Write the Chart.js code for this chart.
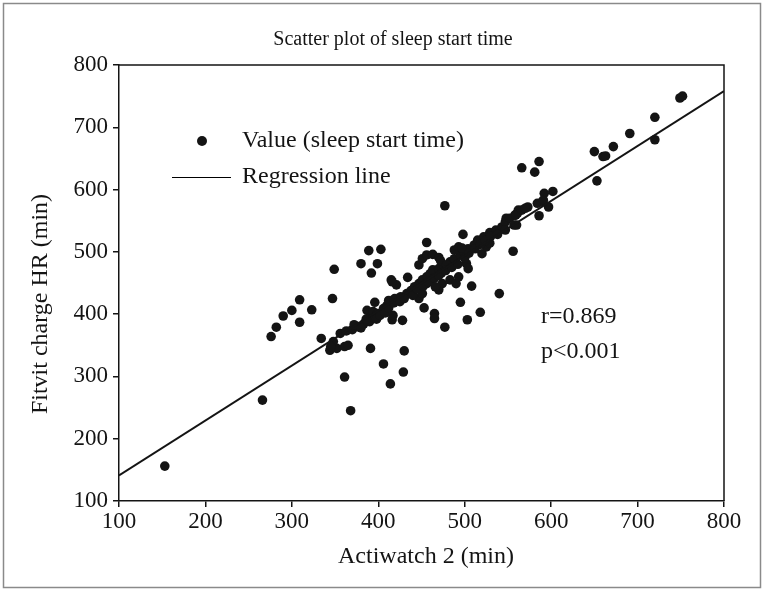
<!DOCTYPE html>
<html><head><meta charset="utf-8">
<script src="https://cdn.jsdelivr.net/npm/chart.js@4.4.1/dist/chart.umd.min.js"></script>
<style>html,body{margin:0;padding:0;background:#fff}#wrap{width:765px;height:592px;position:relative}</style>
</head><body><div id="wrap"><canvas id="c" width="765" height="592"></canvas></div>
<script>
// Actiwatch 2 (x) and Fitbit charge HR (y), minutes
const actiwatch = [153,266,368,361,406,414,429,430,391,
 276,282,290,300,309,309,323,334,347,349,
 380,389,403,399,392,
 344,352,361,365,348,356,
 456,477,498,556,540,518,503,495,508,477,
 465,465,453,428,416,417,396,387,
 566,581,586,586,597,602,592,573,561,
 653,650,660,663,672,691,720,720,749,752,
 590,562,558,548,545,560,
 345,363,370,376,383,390,392,394,399,406,410,412,419,426,433,438,442,447,451,456,460,463,470,476,483,488,495,499,504,511,515,522,529,536,543,547,552,559,566,570,
 415,421,416,434,447,451,456,463,470,472,479,488,493,497,
 447,451,456,461,470,474,483,490,493,502,504,520,525,529,547,557,584,591,473,466,
 372,380,386,398,402,408,412,418,425,430,440,445,452,458,465,470,478,485,492,500,505,512,518,524,530,538];
const fitbit = [156,262,245,299,320,288,307,341,345,
 364,379,397,406,423,387,407,361,425,472,
 481,502,504,481,466,
 342,345,348,350,356,369,
 515,574,528,501,433,403,391,419,445,379,
 401,393,410,390,391,398,419,406,
 635,628,645,558,572,597,594,572,562,
 614,661,653,654,669,690,716,680,747,750,
 581,567,559,554,540,543,
 348,373,375,380,384,388,396,404,401,409,414,422,425,428,433,438,444,449,455,460,465,471,473,479,484,489,495,500,505,511,519,524,531,535,540,548,554,559,567,570,
 455,447,452,459,479,489,495,496,491,486,479,503,508,506,
 425,433,449,455,439,449,455,449,460,481,473,497,508,514,535,543,578,583,466,444,
 383,378,392,392,398,402,410,418,420,425,430,440,445,452,458,462,470,475,480,490,498,505,512,518,525,528];
const regressionX = [100, 800];
const regressionY = [141, 758];
const xTickValues = [100,200,300,400,500,600,700,800];
const yTickValues = [100,200,300,400,500,600,700,800];
const chartTitle = 'Scatter plot of sleep start time';
const xTitle = 'Actiwatch 2 (min)';
const yTitle = 'Fitvit charge HR (min)';
const legendLabels = ['Value (sleep start time)', 'Regression line'];
const statLabels = ['r=0.869', 'p<0.001'];

const FONT = "'Liberation Serif', 'Times New Roman', serif";
const INK = '#141414';

const points = actiwatch.map((x, i) => ({x, y: fitbit[i]}));
const regPts = regressionX.map((x, i) => ({x, y: regressionY[i]}));

const decor = {
  id: 'decor',
  afterDraw(chart) {
    const ctx = chart.ctx, a = chart.chartArea;
    ctx.save();
    // outer frame
    ctx.strokeStyle = '#8a8a8a'; ctx.lineWidth = 1.5;
    ctx.strokeRect(3.5, 3.5, 757, 584);
    // plot frame top/right
    ctx.strokeStyle = INK; ctx.lineWidth = 1.5;
    ctx.beginPath();
    ctx.moveTo(a.left, a.top); ctx.lineTo(a.right, a.top); ctx.lineTo(a.right, a.bottom);
    ctx.stroke();
    ctx.fillStyle = INK;
    ctx.textBaseline = 'middle';
    // title
    ctx.font = "20px " + FONT; ctx.textAlign = 'center';
    ctx.fillText(chartTitle, 393, 40);
    // axis titles
    ctx.font = "24px " + FONT;
    ctx.fillText(xTitle, 426, 557);
    ctx.save(); ctx.translate(41, 304); ctx.rotate(-Math.PI / 2);
    ctx.fillText(yTitle, 0, 0); ctx.restore();
    // legend
    ctx.textAlign = 'left'; ctx.font = "24px " + FONT;
    ctx.beginPath(); ctx.arc(202, 141, 5, 0, Math.PI * 2); ctx.fill();
    ctx.fillText(legendLabels[0], 242, 141);
    ctx.strokeStyle = '#000'; ctx.lineWidth = 1;
    ctx.beginPath(); ctx.moveTo(172, 177.5); ctx.lineTo(231, 177.5); ctx.stroke();
    ctx.fillText(legendLabels[1], 242, 177);
    // stats
    ctx.fillText(statLabels[0], 541, 317);
    ctx.fillText(statLabels[1], 541, 352);
    ctx.restore();
  }
};

new Chart(document.getElementById('c'), {
  data: {
    datasets: [
      {type: 'scatter', label: legendLabels[0], data: points, backgroundColor: INK, borderWidth: 0, pointRadius: 4.8, pointHoverRadius: 4.8, order: 2},
      {type: 'line', label: legendLabels[1], data: regPts, borderColor: INK, borderWidth: 2, pointRadius: 0, fill: false, order: 1}
    ]
  },
  options: {
    responsive: false, animation: false, devicePixelRatio: 1,
    layout: {padding: {top: 65, right: 41, bottom: 0, left: 0}},
    plugins: {legend: {display: false}, title: {display: false}, tooltip: {enabled: false}},
    scales: {
      x: {
        type: 'linear', min: 100, max: 800,
        afterBuildTicks: s => { s.ticks = xTickValues.map(v => ({value: v})); },
        afterFit: s => { s.height = 91; },
        ticks: {font: {family: FONT, size: 23}, color: INK, padding: 1, maxRotation: 0},
        grid: {drawOnChartArea: false, drawTicks: true, tickLength: 6, color: INK, lineWidth: 1.5},
        border: {color: INK, width: 1.5}
      },
      y: {
        type: 'linear', min: 100, max: 800,
        afterBuildTicks: s => { s.ticks = yTickValues.map(v => ({value: v})); },
        afterFit: s => { s.width = 119; },
        ticks: {font: {family: FONT, size: 23}, color: INK, padding: 5},
        grid: {drawOnChartArea: false, drawTicks: true, tickLength: 6, color: INK, lineWidth: 1.5},
        border: {color: INK, width: 1.5}
      }
    }
  },
  plugins: [decor]
});
</script></body></html>
